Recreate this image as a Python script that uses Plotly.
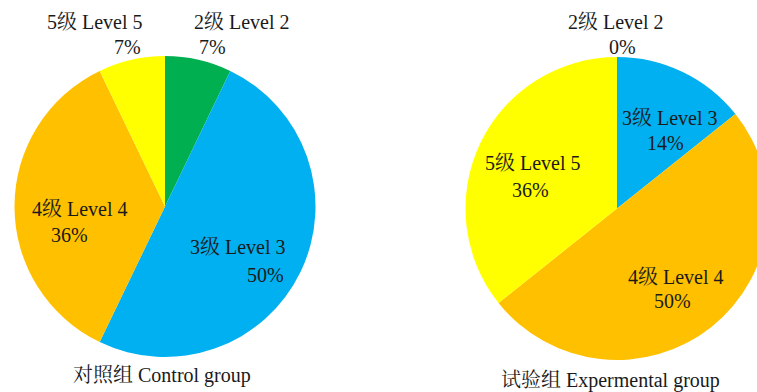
import plotly.graph_objects as go

levels = ["2级 Level 2", "3级 Level 3", "4级 Level 4", "5级 Level 5"]
control_counts = [1, 7, 5, 1]
experimental_counts = [0, 2, 7, 5]
colors = ["#00B050", "#00B0F0", "#FFC000", "#FFFF00"]
group_titles = ["对照组 Control group", "试验组 Expermental group"]

W, H = 772, 392
FONT = "Liberation Serif, Noto Serif CJK SC, Noto Sans CJK SC, serif"
TXT = "#1a1a1a"
FS = 20

# label placement (pixel centres: name line, percent line) per slice
control_label_px = [((242, 22), (213, 47)), ((238, 247), (265, 275)),
                    ((80, 209), (69, 235)), ((95, 22), (127, 47))]
exp_label_px = [((616, 22), (622, 47)), ((670, 118), (665, 143)),
                ((676, 277), (672, 301)), ((533, 163), (530, 190))]
title_px = [(162, 375), (610, 380)]

fig = go.Figure()
fig.add_trace(go.Pie(
    labels=levels, values=control_counts, sort=False, direction="clockwise",
    rotation=0, marker=dict(colors=colors, line=dict(width=0)),
    textinfo="none", automargin=False,
    domain=dict(x=[14 / W, 316 / W], y=[35 / H, 336 / H]),
    showlegend=False, hoverinfo="label+percent",
))
fig.add_trace(go.Pie(
    labels=levels, values=experimental_counts, sort=False, direction="clockwise",
    rotation=0, marker=dict(colors=colors, line=dict(width=0)),
    textinfo="none", automargin=False,
    domain=dict(x=[465 / W, 769 / W], y=[32 / H, 335 / H]),
    showlegend=False, hoverinfo="label+percent",
))

annotations = []
for counts, placements in ((control_counts, control_label_px), (experimental_counts, exp_label_px)):
    total = sum(counts)
    for lab, c, (name_xy, pct_xy) in zip(levels, counts, placements):
        pct = f"{round(100 * c / total)}%"
        for txt, (px, py) in ((lab, name_xy), (pct, pct_xy)):
            annotations.append(dict(
                text=txt, x=px / W, y=1 - py / H, xref="paper", yref="paper",
                xanchor="center", yanchor="middle", showarrow=False,
                font=dict(family=FONT, size=FS, color=TXT),
            ))
for t, (px, py) in zip(group_titles, title_px):
    annotations.append(dict(
        text=t, x=px / W, y=1 - py / H, xref="paper", yref="paper",
        xanchor="center", yanchor="middle", showarrow=False,
        font=dict(family=FONT, size=FS, color=TXT),
    ))

fig.update_layout(
    width=W, height=H, margin=dict(l=0, r=0, t=0, b=0, autoexpand=False),
    paper_bgcolor="white", plot_bgcolor="white",
    annotations=annotations,
)
fig.write_html("out.html")
